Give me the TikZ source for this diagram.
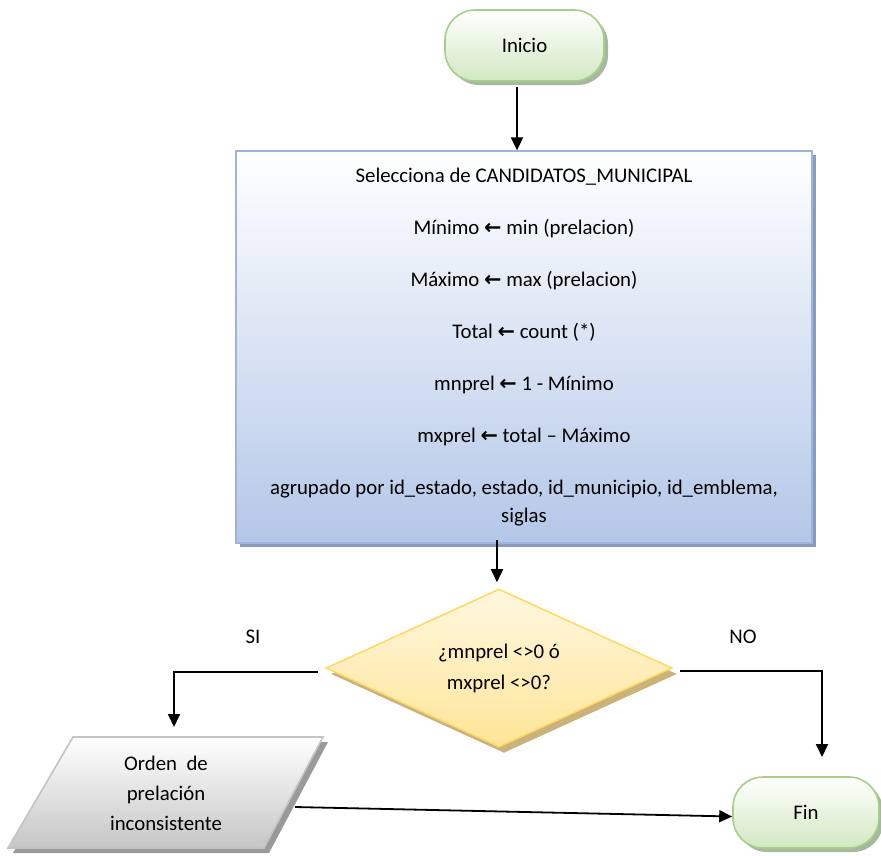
\documentclass[tikz,border=0pt]{standalone}
\usepackage{fontspec}
\setmainfont{Carlito}
\newfontfamily\sym{DejaVu Sans}
\usetikzlibrary{shapes.geometric,shadows,arrows.meta}
\definecolor{termB}{HTML}{A6CF8A}
\definecolor{termF}{HTML}{D2E8C2}
\definecolor{termS}{HTML}{A8B8A0}
\definecolor{boxB}{HTML}{9DB5DE}
\definecolor{boxF}{HTML}{B4C7E8}
\definecolor{boxS}{HTML}{8A9CBE}
\definecolor{decB}{HTML}{FFD966}
\definecolor{decF}{HTML}{FFE597}
\definecolor{decS}{HTML}{C9B27C}
\definecolor{ioB}{HTML}{C4C4C4}
\definecolor{ioF}{HTML}{C6C6C6}
\definecolor{ioS}{HTML}{9A9A9A}
\newcommand{\larr}{{\sym\bfseries ←}}
\tikzset{
  txt/.style={font=\fontsize{20.8}{24}\selectfont},
  terminal/.style={rectangle, rounded corners=30pt, minimum width=159pt, minimum height=71pt,
    draw=termB, line width=1.6pt, top color=white, bottom color=termF,
    drop shadow={shadow xshift=4pt, shadow yshift=-4pt, fill=termS, opacity=1}, txt},
  procbox/.style={rectangle, minimum width=576pt, minimum height=392pt, draw=boxB, line width=1.3pt,
    top color=white, bottom color=boxF, align=center, inner sep=0pt,
    font=\fontsize{20.8}{28}\selectfont,
    drop shadow={shadow xshift=4pt, shadow yshift=-4pt, fill=boxS, opacity=1}},
  decision/.style={diamond, aspect=2.2, minimum width=346pt, minimum height=158pt, inner sep=0pt,
    draw=decB, line width=1.6pt, top color=white!70!decF, bottom color=decF, align=center,
    font=\fontsize{20.8}{31}\selectfont,
    drop shadow={shadow xshift=5pt, shadow yshift=-6pt, fill=decS, opacity=1}},
  iobox/.style={draw=ioB, line width=1.6pt, top color=white, bottom color=ioF,
    drop shadow={shadow xshift=5pt, shadow yshift=-5pt, fill=ioS, opacity=1}},
  arr/.style={line width=1.8pt, -{Triangle[length=13pt,width=12pt]}},
  lbl/.style={txt}
}
\begin{document}
\begin{tikzpicture}[x=1pt,y=-1pt]
\useasboundingbox (0,0) rectangle (881,855);

% start
\node[terminal] (inicio) at (524.5,45.5) {Inicio};

% process box
\node[procbox] (box) at (524,347) {Selecciona de CANDIDATOS\_MUNICIPAL\\[24pt]
M\'inimo \larr{} min (prelacion)\\[24pt]
M\'aximo \larr{} max (prelacion)\\[24pt]
Total \larr{} count (*)\\[24pt]
mnprel \larr{} 1 - M\'inimo\\[24pt]
mxprel \larr{} total -- M\'aximo\\[24pt]
agrupado por id\_estado, estado, id\_municipio, id\_emblema,\\
siglas};

% decision
\node[decision] (dia) at (499,668) {¿mnprel <>0 ó\\mxprel <>0?};

% input/output parallelogram
\path[iobox] (8,848) -- (264,848) -- (323,737) -- (73,737) -- cycle;
\node[align=center, font=\fontsize{20.8}{30}\selectfont] (par) at (166,793) {Orden\ \ de\\prelaci\'on\\inconsistente};

% end
\node[terminal, minimum width=146pt] (fin) at (806,812.5) {Fin};

% labels
\node[lbl] (si) at (253,637) {SI};
\node[lbl] (no) at (743,637) {NO};

% helper coordinates
\coordinate (c1) at (517,87);
\coordinate (c2) at (497,540);
\coordinate (c3) at (318,672);
\coordinate (parTop) at (174,737);
\coordinate (c4) at (680,671);
\coordinate (finTop) at (822,777);
\coordinate (parE) at (295,807);

% connectors
\draw[arr] (c1) -- (c1 |- box.north);
\draw[arr, shorten >=6pt] (c2) -- (c2 |- dia.north);
\draw[arr, shorten >=10pt] (c3) -| (parTop);
\draw[arr, shorten >=20pt] (c4) -| (finTop);
\draw[arr] (parE) -- ([yshift=-4pt]fin.west);
\end{tikzpicture}
\end{document}
